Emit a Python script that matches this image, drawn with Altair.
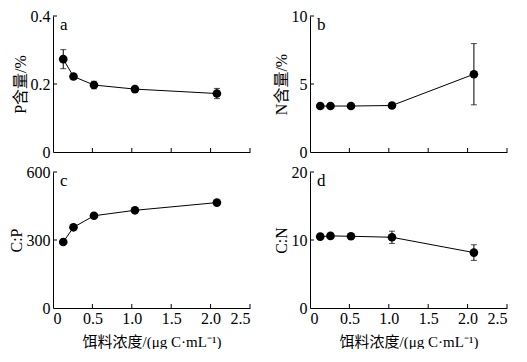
import altair as alt
import pandas as pd

# data
conc = [0.13, 0.26, 0.52, 1.04, 2.08]
p_val = [0.273, 0.222, 0.197, 0.185, 0.172]
p_err = [0.028, 0.007, 0.011, 0.006, 0.015]
n_val = [3.38, 3.38, 3.38, 3.42, 5.72]
n_err = [0.08, 0.08, 0.1, 0.2, 2.25]
cp_val = [291, 356, 407, 431, 465]
cp_err = [6, 6, 6, 6, 6]
cn_val = [10.5, 10.6, 10.55, 10.4, 8.15]
cn_err = [0.2, 0.2, 0.2, 0.9, 1.15]

x_ticks = [0, 0.5, 1.0, 1.5, 2.0, 2.5]
p_ticks = [0, 0.2, 0.4]
n_ticks = [0, 5, 10]
cp_ticks = [0, 300, 600]
cn_ticks = [0, 10, 20]

x_title = "饵料浓度/(μg C·mL⁻¹)"
FONT = "Liberation Serif, Noto Sans CJK SC"
W, H = 197, 136
label_expr = "datum.value == 0 ? '0' : format(datum.value, '.1f')"


def panel(vals, errs, yticks, ytitle, letter, show_x, ylabel_expr=None):
    df = pd.DataFrame({
        "x": conc,
        "v": vals,
        "lo": [v - e for v, e in zip(vals, errs)],
        "hi": [v + e for v, e in zip(vals, errs)],
    })
    xaxis = alt.Axis(values=x_ticks, tickSize=0, labels=show_x, labelOverlap=False,
                     labelExpr=label_expr, labelPadding=2, titleFontSize=15,
                     title=x_title if show_x else None, titlePadding=8)
    yaxis_kw = dict(values=yticks, tickSize=0, labelPadding=3, title=ytitle,
                    titlePadding=2, titleFontSize=16, labelOverlap=False)
    if ylabel_expr:
        yaxis_kw["labelExpr"] = ylabel_expr
    xs = alt.X("x:Q", scale=alt.Scale(domain=[0, 2.5], nice=False), axis=xaxis)
    ys = alt.Y("v:Q", scale=alt.Scale(domain=[yticks[0], yticks[-1]], nice=False),
               axis=alt.Axis(**yaxis_kw))
    base = alt.Chart(df)
    line = base.mark_line(color="black", strokeWidth=1).encode(x=xs, y=ys)
    err = base.mark_rule(color="black", strokeWidth=1).encode(x=xs, y=alt.Y("lo:Q"), y2="hi:Q")
    cap_hi = base.mark_tick(orient="horizontal", size=6, thickness=1, color="black").encode(x=xs, y=alt.Y("hi:Q"))
    cap_lo = base.mark_tick(orient="horizontal", size=6, thickness=1, color="black").encode(x=xs, y=alt.Y("lo:Q"))
    pts = base.mark_circle(size=75, color="black", opacity=1).encode(x=xs, y=ys)
    xt = alt.Chart(pd.DataFrame({"x": x_ticks[1:]})).mark_rule(color="black", strokeWidth=1).encode(
        x=xs, y=alt.value(H), y2=alt.value(H - 4))
    yt = alt.Chart(pd.DataFrame({"v": yticks[1:]})).mark_rule(color="black", strokeWidth=1).encode(
        y=ys, x=alt.value(0), x2=alt.value(4))
    txt = alt.Chart(pd.DataFrame({"t": [letter]})).mark_text(
        align="left", baseline="alphabetic", fontSize=17, font=FONT, color="black").encode(
        text="t:N", x=alt.value(7), y=alt.value(14))
    return alt.layer(line, err, cap_hi, cap_lo, pts, xt, yt, txt).properties(width=W, height=H)


a = panel(p_val, p_err, p_ticks, "P含量/%", "a", False, label_expr)
b = panel(n_val, n_err, n_ticks, "N含量/%", "b", False)
c = panel(cp_val, cp_err, cp_ticks, "C:P", "c", True)
d = panel(cn_val, cn_err, cn_ticks, "C:N", "d", True)

chart = alt.hconcat(
    alt.vconcat(a, c, spacing=4),
    alt.vconcat(b, d, spacing=4),
    spacing=22,
).properties(
    padding={"left": 0, "top": 0, "right": 0, "bottom": 0}
).configure_view(stroke=None).configure_axis(
    grid=False, domainColor="black", domainWidth=1,
    labelColor="black", titleColor="black", labelOverlap=False,
    labelFont=FONT, titleFont=FONT, labelFontSize=16,
    titleFontWeight="normal",
)

chart.save("out.html", embed_options={"renderer": "svg", "actions": False})
